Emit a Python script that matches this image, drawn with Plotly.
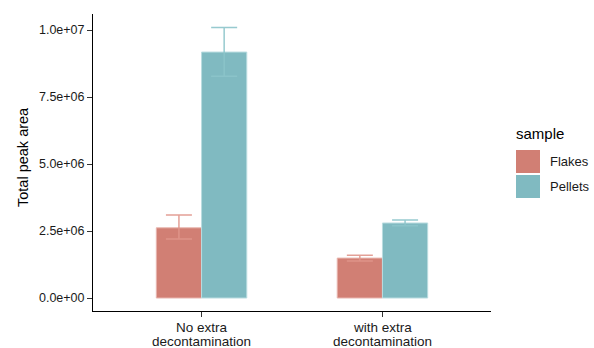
import plotly.graph_objects as go

categories = ["No extra<br>decontamination", "with extra<br>decontamination"]
samples = ["Flakes", "Pellets"]
flakes = [2.62e6, 1.49e6]
flakes_plus = [0.48e6, 0.11e6]
flakes_minus = [0.42e6, 0.11e6]
pellets = [9.18e6, 2.80e6]
pellets_plus = [0.92e6, 0.11e6]
pellets_minus = [0.90e6, 0.10e6]
yticks = [0, 2.5e6, 5.0e6, 7.5e6, 1.0e7]
ytick_text = ["0.0e+00", "2.5e+06", "5.0e+06", "7.5e+06", "1.0e+07"]
y_title = "Total peak area"
legend_title = "sample"

fill = {"Flakes": "#D17F74", "Pellets": "#80BAC1"}
edge = {"Flakes": "#E8B5AE", "Pellets": "#B9DCE0"}
errc = {"Flakes": "rgba(224,150,140,0.9)", "Pellets": "rgba(140,196,202,0.9)"}

fig = go.Figure()
for name, vals, plus, minus in [("Flakes", flakes, flakes_plus, flakes_minus),
                                ("Pellets", pellets, pellets_plus, pellets_minus)]:
    fig.add_trace(go.Bar(
        x=categories, y=vals, name=name,
        marker=dict(color=fill[name], line=dict(color=edge[name], width=1)),
        error_y=dict(type="data", symmetric=False, array=plus, arrayminus=minus,
                     color=errc[name], thickness=1.5, width=13),
        showlegend=False,
    ))

font = "Liberation Sans, Arial, sans-serif"
fig.update_layout(
    width=594, height=348,
    margin=dict(l=93, r=103, t=14, b=37),
    barmode="group", bargap=0.5, bargroupgap=0,
    plot_bgcolor="white", paper_bgcolor="white",
    font=dict(family=font, size=12, color="#333333"),
    xaxis=dict(range=[-0.6, 1.6], showline=True, linecolor="black", linewidth=1,
               ticks="outside", ticklen=5, tickcolor="#333333", showgrid=False,
               zeroline=False, showticklabels=False, automargin=False),
    yaxis=dict(range=[-0.485e6, 10.6e6], showline=True, linecolor="black", linewidth=1,
               ticks="outside", ticklen=5, tickcolor="#333333", showgrid=False,
               zeroline=False, tickvals=yticks, ticktext=ytick_text, automargin=False,
               tickfont=dict(size=12.5, color="#1a1a1a")),
)

def px_x(p):
    return (p - 93) / 398
def px_y(p):
    return (311 - p) / 297

# x tick labels (two tight lines each)
for cat in categories:
    lines = cat.split("<br>")
    for j, line in enumerate(lines):
        fig.add_annotation(x=cat, y=px_y(327 + 14 * j), xref="x", yref="paper", text=line,
                           showarrow=False, xanchor="center", yanchor="middle",
                           font=dict(size=13.5, color="#1a1a1a", family=font))

# y axis title
fig.add_annotation(x=px_x(23), y=px_y(157), xref="paper", yref="paper", text=y_title,
                   textangle=-90, showarrow=False, xanchor="center", yanchor="middle",
                   font=dict(size=14.5, color="black", family=font))

# manual legend
fig.add_annotation(x=px_x(514), y=px_y(133), xref="paper", yref="paper", text=legend_title,
                   showarrow=False, xanchor="left", yanchor="middle",
                   font=dict(size=15, color="black", family=font))
for i, name in enumerate(samples):
    top = 150 + i * 25
    fig.add_shape(type="rect", xref="paper", yref="paper",
                  x0=px_x(516), x1=px_x(540), y0=px_y(top + 23), y1=px_y(top),
                  fillcolor=fill[name], line=dict(width=0))
    fig.add_annotation(x=px_x(548), y=px_y(top + 11.5), xref="paper", yref="paper", text=name,
                       showarrow=False, xanchor="left", yanchor="middle",
                       font=dict(size=13, color="#1a1a1a", family=font))

fig.write_html("out.html")
